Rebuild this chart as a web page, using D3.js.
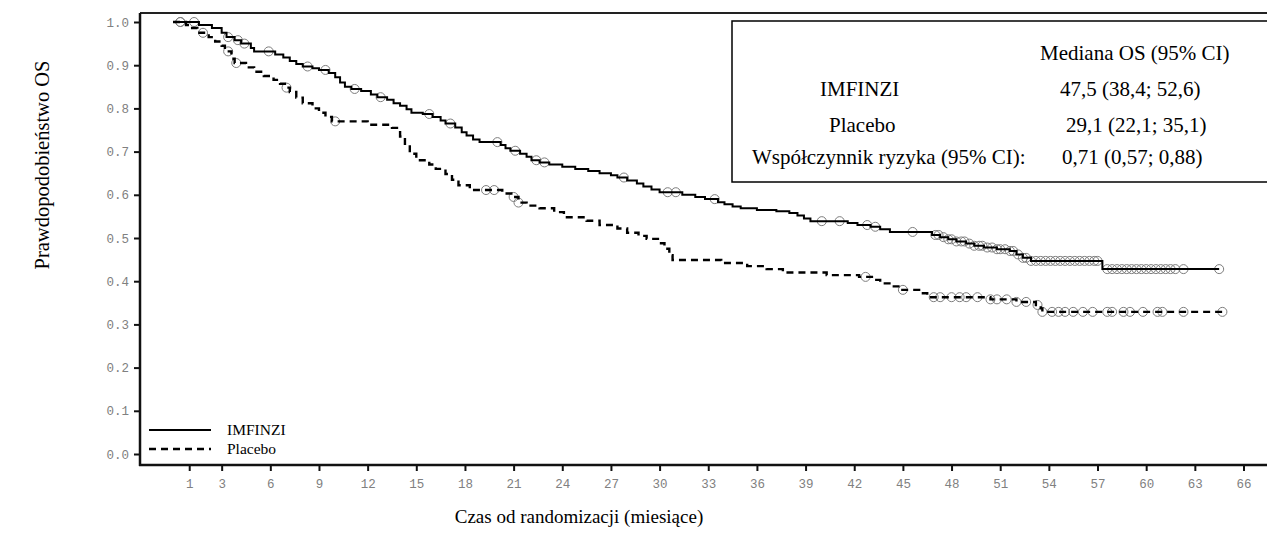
<!DOCTYPE html>
<html>
<head>
<meta charset="utf-8">
<script src="https://cdn.jsdelivr.net/npm/d3@7"></script>
<style>
  html, body { margin: 0; padding: 0; background: #fff; }
  svg { display: block; }
</style>
</head>
<body>
<svg id="chart" width="1267" height="545"></svg>
<script>
// Kaplan–Meier overall survival: step points [month, survival probability]
const imfinziSteps = [
  [0,1.0],[1.6,0.993],[2.4,0.986],[3.0,0.975],[3.3,0.965],[3.8,0.958],[4.2,0.95],[4.8,0.94],
  [5.0,0.932],[6.3,0.925],[6.8,0.918],[7.2,0.91],[7.6,0.903],[8.0,0.897],[8.6,0.893],[9.0,0.889],
  [9.6,0.882],[10.0,0.872],[10.3,0.86],[10.6,0.85],[11.0,0.845],[11.6,0.84],[12.2,0.832],[12.6,0.826],
  [13.2,0.82],[13.6,0.812],[14.0,0.806],[14.4,0.798],[14.7,0.79],[15.4,0.787],[16.0,0.78],[16.5,0.772],
  [16.8,0.765],[17.4,0.756],[17.8,0.745],[18.1,0.737],[18.5,0.728],[18.9,0.722],[20.2,0.715],[20.5,0.708],
  [20.8,0.702],[21.4,0.695],[21.8,0.688],[22.1,0.68],[22.6,0.675],[23.2,0.67],[24.0,0.665],[24.8,0.66],
  [25.6,0.655],[26.3,0.65],[27.0,0.645],[27.4,0.64],[28.0,0.633],[28.6,0.626],[29.0,0.619],[29.5,0.612],
  [30.0,0.606],[31.4,0.6],[32.2,0.595],[32.8,0.59],[33.6,0.583],[34.0,0.578],[34.5,0.573],[35.0,0.569],
  [36.0,0.565],[37.2,0.562],[38.0,0.558],[38.5,0.552],[38.9,0.545],[39.3,0.539],[41.6,0.535],[42.2,0.53],
  [43.0,0.526],[43.6,0.52],[44.2,0.514],[46.8,0.507],[47.3,0.502],[47.8,0.497],[48.3,0.492],[48.9,0.487],
  [49.4,0.482],[50.0,0.478],[50.8,0.474],[51.6,0.47],[52.0,0.462],[52.4,0.454],[52.9,0.447],[57.3,0.428],
  [64.5,0.428]
];
const placeboSteps = [
  [0,1.0],[0.8,0.993],[1.0,0.986],[1.5,0.975],[2.2,0.965],[2.6,0.955],[3.0,0.945],[3.2,0.932],
  [3.6,0.915],[3.8,0.905],[4.5,0.895],[5.0,0.885],[5.6,0.875],[6.2,0.866],[6.6,0.857],[6.9,0.848],
  [7.2,0.838],[7.6,0.825],[8.0,0.812],[8.6,0.8],[9.0,0.79],[9.4,0.78],[9.8,0.77],[12.0,0.762],
  [13.5,0.755],[14.0,0.735],[14.3,0.715],[14.6,0.695],[15.0,0.68],[15.8,0.67],[16.2,0.66],[16.8,0.648],
  [17.2,0.635],[17.6,0.622],[18.3,0.611],[20.3,0.603],[21.0,0.595],[21.3,0.582],[21.8,0.575],[22.6,0.569],
  [23.5,0.56],[24.1,0.548],[25.5,0.54],[26.3,0.53],[27.4,0.522],[28.0,0.512],[28.7,0.505],[29.2,0.498],
  [30.0,0.488],[30.3,0.475],[30.6,0.46],[30.8,0.449],[33.8,0.442],[35.4,0.435],[36.6,0.428],[37.6,0.42],
  [40.3,0.414],[42.3,0.41],[43.2,0.403],[43.6,0.395],[44.3,0.388],[44.8,0.38],[46.0,0.372],[46.5,0.363],
  [50.4,0.358],[52.0,0.352],[53.2,0.345],[53.5,0.337],[53.6,0.329],[64.9,0.329]
];

// Censoring times (months)
const imfinziCensored = [
  0.45,1.3,3.4,4.0,4.4,5.9,8.3,9.4,11.2,12.8,15.8,17.1,20.0,21.1,22.4,22.9,27.8,30.5,31.0,33.4,
  40.0,41.1,42.8,43.3,45.6,
  47.0,47.2,47.5,47.8,48.0,48.3,48.6,48.8,49.1,49.4,49.7,49.9,50.2,50.5,50.8,51.0,51.3,51.6,51.8,
  52.1,52.4,52.6,52.9,53.2,53.5,53.8,54.1,54.4,54.7,55.0,55.3,55.6,55.9,56.2,56.5,56.8,57.0,
  57.6,57.9,58.2,58.5,58.8,59.1,59.4,59.7,60.0,60.3,60.6,60.9,61.2,61.5,61.8,62.3,64.5
];
const placeboCensored = [
  0.45,1.85,3.4,3.9,7.0,10.0,19.3,19.8,21.0,21.3,42.7,45.0,
  46.9,47.3,48.0,48.5,48.9,49.6,50.4,50.8,51.4,52.0,52.6,53.3,
  53.6,54.2,54.6,55.0,55.5,56.1,56.7,57.6,57.9,58.6,59.0,59.8,60.7,61.0,62.3,64.7
];

const xTicks = [1,3,6,9,12,15,18,21,24,27,30,33,36,39,42,45,48,51,54,57,60,63,66];
const yTicks = [0,0.1,0.2,0.3,0.4,0.5,0.6,0.7,0.8,0.9,1.0];

const seriesNames = ["IMFINZI", "Placebo"];
const statsHeader = "Mediana OS (95% CI)";
const statsRows = [
  ["IMFINZI", "47,5 (38,4; 52,6)"],
  ["Placebo", "29,1 (22,1; 35,1)"],
  ["Współczynnik ryzyka (95% CI):", "0,71 (0,57; 0,88)"]
];

const svg = d3.select("#chart");
const frame = { left: 140, top: 13, bottom: 465, right: 1300 };

const x = d3.scaleLinear().domain([0, 66]).range([173, 1243.5]);
const y = d3.scaleLinear().domain([0, 1]).range([454, 22]);

const serif = "'Liberation Serif', 'Times New Roman', serif";
const mono = "'Liberation Mono', 'Courier New', monospace";

// frame lines
svg.append("line").attr("x1", frame.left).attr("x2", frame.right)
  .attr("y1", frame.top).attr("y2", frame.top)
  .attr("stroke", "#222").attr("stroke-width", 2);

// axes
const yAxis = d3.axisLeft(y).tickValues(yTicks).tickFormat(d3.format(".1f"))
  .tickSize(6).tickPadding(5);
const gy = svg.append("g").attr("transform", `translate(${frame.left},0)`).call(yAxis);
gy.select(".domain").remove();
gy.selectAll(".tick line").attr("stroke", "#111").attr("stroke-width", 2);
gy.selectAll(".tick text").attr("font-family", mono).attr("font-size", 12.5)
  .attr("fill", "#808080");

const xAxis = d3.axisBottom(x).tickValues(xTicks).tickFormat(d3.format("d"))
  .tickSize(6).tickPadding(8);
const gx = svg.append("g").attr("transform", `translate(0,${frame.bottom})`).call(xAxis);
gx.select(".domain").remove();
gx.selectAll(".tick line").attr("stroke", "#111").attr("stroke-width", 2);
gx.selectAll(".tick text").attr("font-family", mono).attr("font-size", 12.5)
  .attr("fill", "#808080");

svg.append("line").attr("x1", frame.left).attr("x2", frame.left)
  .attr("y1", frame.top).attr("y2", frame.bottom + 1)
  .attr("stroke", "#111").attr("stroke-width", 2.5);
svg.append("line").attr("x1", frame.left - 1).attr("x2", frame.right)
  .attr("y1", frame.bottom).attr("y2", frame.bottom)
  .attr("stroke", "#111").attr("stroke-width", 2.5);

// survival value at time t from step points
function survivalAt(steps, t) {
  const i = d3.bisector(d => d[0]).right(steps, t) - 1;
  return steps[Math.max(0, i)][1];
}

const line = d3.line().x(d => x(d[0])).y(d => y(d[1])).curve(d3.curveStepAfter);

const curves = [
  { steps: imfinziSteps, censored: imfinziCensored, dash: null, width: 2 },
  { steps: placeboSteps, censored: placeboCensored, dash: "7,5", width: 2.4 }
];

curves.forEach(c => {
  svg.append("g").selectAll("circle").data(c.censored).join("circle")
    .attr("cx", d => x(d)).attr("cy", d => y(survivalAt(c.steps, d)))
    .attr("r", 4.5).attr("fill", "none").attr("stroke", "#7d7d7d").attr("stroke-width", 1);
});
curves.forEach(c => {
  svg.append("path").datum(c.steps).attr("d", line)
    .attr("fill", "none").attr("stroke", "#000").attr("stroke-width", c.width)
    .attr("stroke-dasharray", c.dash);
});

// statistics box
svg.append("rect").attr("x", 732).attr("y", 21).attr("width", 600).attr("height", 161)
  .attr("fill", "#fff").attr("stroke", "#000").attr("stroke-width", 1.5);
const statsText = svg.append("g").attr("font-family", serif).attr("font-size", 21).attr("fill", "#000");
statsText.append("text").attr("x", 1040).attr("y", 60).text(statsHeader);
const labelX = [820, 829, 752];
const valueX = [1060, 1066, 1062];
const rowY = [96, 132, 164];
statsRows.forEach((r, i) => {
  statsText.append("text").attr("x", labelX[i]).attr("y", rowY[i]).text(r[0]);
  statsText.append("text").attr("x", valueX[i]).attr("y", rowY[i]).text(r[1]);
});

// legend
const legend = svg.append("g");
curves.forEach((c, i) => {
  const ly = 430 + i * 19;
  legend.append("line").attr("x1", 149).attr("x2", 211).attr("y1", ly).attr("y2", ly)
    .attr("stroke", "#000").attr("stroke-width", c.width).attr("stroke-dasharray", c.dash);
  legend.append("text").attr("x", 227).attr("y", ly + 5)
    .attr("font-family", serif).attr("font-size", 15.5).text(seriesNames[i]);
});

// axis titles
svg.append("text").attr("transform", "translate(49,165) rotate(-90)")
  .attr("text-anchor", "middle").attr("font-family", serif).attr("font-size", 20.5)
  .text("Prawdopodobieństwo OS");
svg.append("text").attr("x", 579).attr("y", 523)
  .attr("text-anchor", "middle").attr("font-family", serif).attr("font-size", 19)
  .text("Czas od randomizacji (miesiące)");
</script>
</body>
</html>
